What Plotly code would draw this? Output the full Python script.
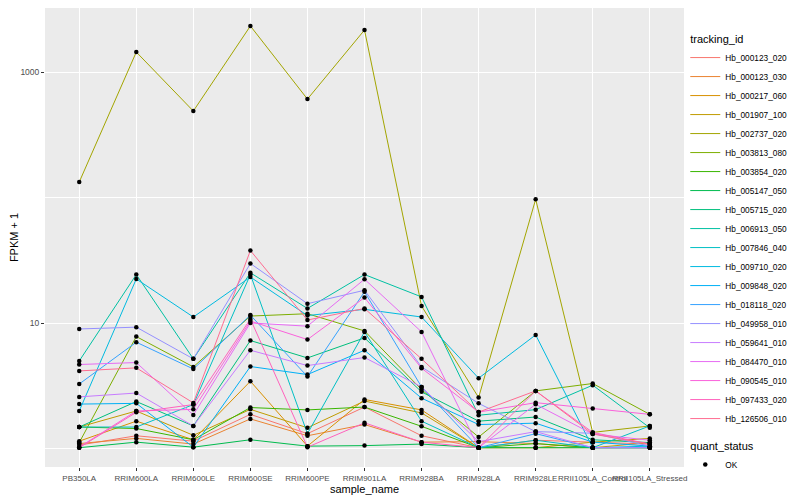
import plotly.graph_objects as go

samples = ["PB350LA", "RRIM600LA", "RRIM600LE", "RRIM600SE", "RRIM600PE", "RRIM901LA",
           "RRIM928BA", "RRIM928LA", "RRIM928LE", "RRII105LA_Control", "RRII105LA_Stressed"]

tracking_ids = ["Hb_000123_020", "Hb_000123_030", "Hb_000217_060", "Hb_001907_100", "Hb_002737_020",
                "Hb_003813_080", "Hb_003854_020", "Hb_005147_050", "Hb_005715_020", "Hb_006913_050",
                "Hb_007846_040", "Hb_009710_020", "Hb_009848_020", "Hb_018118_020", "Hb_049958_010",
                "Hb_059641_010", "Hb_084470_010", "Hb_090545_010", "Hb_097433_020", "Hb_126506_010"]

# FPKM + 1 per tracking_id, in sample order
hb_000123_020 = [1.07, 1.27, 1.15, 1.88, 1.32, 2.15, 1.27, 1.02, 1.17, 1.13, 1.09]
hb_000123_030 = [1.10, 1.21, 1.09, 1.73, 1.27, 1.56, 1.13, 1.14, 1.10, 1.02, 1.02]
hb_000217_060 = [1.15, 1.66, 1.18, 3.45, 1.05, 2.47, 2.04, 1.02, 1.02, 1.02, 1.12]
hb_001907_100 = [1.49, 2.00, 1.28, 2.06, 1.47, 2.40, 1.93, 1.02, 1.02, 1.13, 1.21]
hb_002737_020 = [133, 1443, 489, 2326, 609, 2161, 13.7, 2.56, 97, 1.35, 1.52]
hb_003813_080 = [1.12, 7.83, 4.49, 11.4, 11.9, 8.68, 2.96, 1.24, 2.89, 3.31, 1.88]
hb_003854_020 = [1.49, 1.45, 1.18, 2.13, 2.04, 2.15, 1.51, 1.02, 1.10, 1.02, 1.02]
hb_005147_050 = [1.02, 1.13, 1.03, 1.18, 1.05, 1.06, 1.09, 1.02, 1.02, 1.02, 1.02]
hb_005715_020 = [1.49, 2.38, 1.52, 7.28, 5.29, 7.64, 2.84, 1.66, 1.79, 1.18, 1.12]
hb_006913_050 = [5.0, 24.4, 5.2, 25.2, 13.1, 24.4, 16.2, 1.85, 2.05, 3.21, 1.47]
hb_007846_040 = [1.49, 1.49, 2.25, 24.4, 1.32, 8.53, 1.66, 1.02, 1.17, 1.02, 1.52]
hb_009710_020 = [2.0, 22.5, 11.2, 23.3, 11.5, 12.9, 11.2, 3.65, 8.07, 1.02, 1.05]
hb_009848_020 = [2.27, 2.30, 1.03, 4.52, 3.90, 6.09, 2.53, 1.56, 1.60, 1.13, 1.05]
hb_018118_020 = [3.28, 7.06, 4.32, 11.6, 3.76, 17.8, 3.11, 1.02, 1.32, 1.02, 1.02]
hb_049958_010 = [9.0, 9.3, 5.2, 29.9, 14.3, 18.3, 4.49, 2.30, 1.37, 1.33, 1.05]
hb_059641_010 = [2.59, 2.78, 1.52, 6.09, 4.60, 5.33, 3.11, 1.14, 1.37, 1.02, 1.02]
hb_084470_010 = [4.69, 4.86, 1.86, 10.05, 9.47, 22.4, 8.53, 1.02, 2.26, 1.31, 1.17]
hb_090545_010 = [1.03, 2.00, 2.06, 10.4, 7.41, 16.0, 4.38, 1.96, 2.33, 2.09, 1.88]
hb_097433_020 = [1.02, 1.95, 2.25, 10.8, 1.03, 1.61, 1.13, 1.02, 2.89, 1.35, 1.09]
hb_126506_010 = [4.17, 4.41, 2.32, 37.9, 10.6, 13.1, 5.2, 1.96, 2.89, 1.31, 1.09]

series = [hb_000123_020, hb_000123_030, hb_000217_060, hb_001907_100, hb_002737_020,
          hb_003813_080, hb_003854_020, hb_005147_050, hb_005715_020, hb_006913_050,
          hb_007846_040, hb_009710_020, hb_009848_020, hb_018118_020, hb_049958_010,
          hb_059641_010, hb_084470_010, hb_090545_010, hb_097433_020, hb_126506_010]

colors = ["#F8766D", "#EA8331", "#D89000", "#C09B00", "#A3A500", "#7CAE00", "#39B600", "#00BB4E",
          "#00BF7D", "#00C1A3", "#00BFC4", "#00BAE0", "#00B0F6", "#35A2FF", "#9590FF", "#C77CFF",
          "#E76BF3", "#FA62DB", "#FF62BC", "#FF6C91"]

fig = go.Figure()
for tid, vals, col in zip(tracking_ids, series, colors):
    fig.add_trace(go.Scatter(
        x=samples, y=vals, mode="lines", name=tid,
        line=dict(color=col, width=1),
        legendgroup="tracking_id",
        legendgrouptitle=dict(text="tracking_id", font=dict(size=11, color="black")),
    ))

all_x = [s for vals in series for s in samples]
all_y = [v for vals in series for v in vals]
fig.add_trace(go.Scatter(
    x=all_x, y=all_y, mode="markers", name="OK",
    marker=dict(color="black", size=4.5),
    legendgroup="quant_status",
    legendgrouptitle=dict(text="quant_status", font=dict(size=11, color="black")),
))

fig.update_layout(
    width=792, height=492,
    paper_bgcolor="white", plot_bgcolor="#EBEBEB",
    margin=dict(l=37, r=116, t=0, b=33),
    font=dict(family="Liberation Sans, Arial, sans-serif", size=9, color="black"),
    showlegend=True,
    legend=dict(x=1.002, y=0.965, xanchor="left", yanchor="top",
                font=dict(size=8.3, color="black"), tracegroupgap=8,
                itemwidth=30, bgcolor="rgba(255,255,255,0)"),
)
fig.update_xaxes(
    type="category", range=[-0.6, 10.6], tickangle=0,
    showgrid=True, gridcolor="white", gridwidth=1.1,
    ticks="outside", ticklen=3, tickcolor="#333333",
    tickfont=dict(size=8, color="#4D4D4D"),
    title=dict(text="sample_name", font=dict(size=11, color="black"), standoff=1),
    zeroline=False, showline=False,
)
fig.update_yaxes(
    type="log", range=[-0.145, 3.510],
    tickvals=[10, 1000], ticktext=["10", "1000"],
    showgrid=True, gridcolor="white", gridwidth=1.1,
    minor=dict(tickvals=[1, 100], showgrid=True, gridcolor="white", gridwidth=0.6, ticklen=0),
    ticks="outside", ticklen=3, tickcolor="#333333",
    tickfont=dict(size=8.5, color="#4D4D4D"),
    title=dict(text="FPKM + 1", font=dict(size=11, color="black"), standoff=0),
    zeroline=False, showline=False,
)

fig.write_html("out.html")
